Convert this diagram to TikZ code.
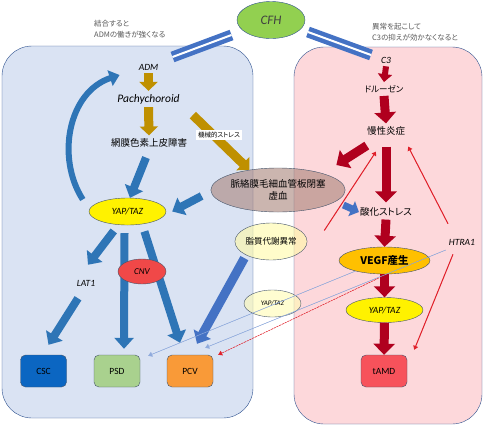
\documentclass[tikz,border=0pt]{standalone}
\usepackage{fontspec}
\setmainfont{Carlito}
\newfontfamily\jp{Noto Sans CJK JP}[RawFeature=+palt]
\usetikzlibrary{shapes.geometric,arrows.meta}
\definecolor{leftbg}{HTML}{DAE3F3}
\definecolor{rightbg}{HTML}{FDD8DB}
\definecolor{frame}{HTML}{2F528F}
\definecolor{edge}{HTML}{44546A}
\definecolor{blarrow}{HTML}{2E75B6}
\definecolor{blarrowlight}{HTML}{4472C4}
\definecolor{goldarrow}{HTML}{BF9000}
\definecolor{redarrow}{HTML}{B0001E}
\definecolor{thinred}{HTML}{E0202A}
\definecolor{thinblue}{HTML}{8FAADC}
\definecolor{notegray}{HTML}{595959}
\definecolor{cfhgreen}{HTML}{92D050}
\definecolor{cscblue}{HTML}{0B66C2}
\definecolor{psdgreen}{HTML}{A9D18E}
\definecolor{pcvorange}{HTML}{F99A38}
\definecolor{tamdred}{HTML}{F7525B}
\definecolor{cnvred}{HTML}{F04848}
\definecolor{vegfgold}{HTML}{FFC000}
\definecolor{ischbrown}{HTML}{A8837A}
\begin{document}
\begin{tikzpicture}[x=1pt,y=-1pt,
    ilbl/.style={inner sep=3pt,font=\fontsize{9.5}{11}\selectfont\itshape},
    jlbl/.style={inner sep=3pt,font=\fontsize{9.5}{11}\selectfont\jp},
    note/.style={inner sep=1pt,align=left,text=notegray,font=\fontsize{7.5}{11}\selectfont\jp},
    oval/.style={ellipse,draw=edge,inner sep=0pt},
    disease/.style={rectangle,draw=edge,rounded corners=5pt,minimum width=46pt,minimum height=32pt,font=\fontsize{9.5}{11}\selectfont},
    goldarr/.style={draw=goldarrow,line width=9pt,-{Triangle[width=18pt,length=9pt]}},
    bluearr/.style={draw=blarrow,line width=8pt,-{Triangle[width=19pt,length=11pt]}},
    redarr/.style={draw=redarrow,line width=9pt,-{Triangle[width=21pt,length=11pt]}},
    thinarr/.style={line width=0.5pt,-{Triangle[width=5pt,length=4pt]}},
    bar/.style={draw=blarrowlight,line width=4.5pt,double=white,double distance=2pt}]
\useasboundingbox (0,0) rectangle (484,426);

% two regions
\draw[frame,fill=leftbg,rounded corners=30pt] (2,46) rectangle (253,418);
\draw[frame,fill=rightbg,rounded corners=30pt] (294,47) rectangle (482,424);

% CFH and its two bindings
\node[oval,fill=cfhgreen,draw=frame,minimum width=68pt,minimum height=37pt,text=black!75,font=\fontsize{13}{15}\selectfont\itshape] (cfh) at (271,20) {CFH};
\coordinate (barL1) at (172.5,57);
\coordinate (barL2) at (231.5,35);
\coordinate (barR1) at (308,32);
\coordinate (barR2) at (371,55);
\draw[bar] (barL1) -- (barL2);
\draw[bar] (barR1) -- (barR2);
\node[note,anchor=west] (noteadm) at (93,29) {結合すると\\ADMの働きが強くなる};
\node[note,anchor=west] (notec3) at (371,32) {異常を起こして\\C3の抑えが効かなくなると};

% left side
\node[ilbl] (adm) at (148.5,67) {ADM};
\node[ilbl,font=\fontsize{11.5}{13}\selectfont\itshape] (pachy) at (148.5,99) {Pachychoroid};
\node[jlbl] (rpe) at (149,143) {網膜色素上皮障害};
\node[oval,fill=yellow,minimum width=77pt,minimum height=27pt,font=\fontsize{9.5}{11}\selectfont\itshape] (yapl) at (127.5,211.5) {YAP/TAZ};
\node[ilbl] (lat) at (86,283) {LAT1};
\node[disease,fill=cscblue] (csc) at (43.5,371) {CSC};
\node[disease,fill=psdgreen] (psd) at (117,371) {PSD};
\node[disease,fill=pcvorange] (pcv) at (190,371) {PCV};

% middle
\node[oval,fill=ischbrown,fill opacity=0.6,text opacity=1,minimum width=118pt,minimum height=44pt,align=center,font=\fontsize{9.5}{11.5}\selectfont\jp] (isch) at (278,190) {脈絡膜毛細血管板閉塞\\虚血};
\node[oval,fill=yellow!35,fill opacity=0.6,text opacity=1,minimum width=66pt,minimum height=37pt,font=\fontsize{8.5}{10}\selectfont\jp] (lipid) at (271,241.5) {脂質代謝異常};
\node[oval,fill=yellow!30,fill opacity=0.6,text opacity=1,minimum width=57pt,minimum height=27pt,font=\fontsize{7}{8}\selectfont\itshape] (yapm) at (272.5,303.5) {YAP/TAZ};

% right side
\node[ilbl] (c3) at (386,60) {C3};
\node[jlbl,font=\fontsize{8.5}{10}\selectfont\jp] (drusen) at (384,89) {ドルーゼン};
\node[jlbl] (inflam) at (386,131) {慢性炎症};
\node[jlbl] (oxid) at (386,212) {酸化ストレス};
\node[oval,fill=vegfgold,minimum width=91pt,minimum height=27pt,font=\fontsize{10.5}{12}\selectfont\jp\bfseries] (vegf) at (384.5,260.5) {VEGF産生};
\node[oval,fill=yellow,minimum width=77pt,minimum height=25pt,font=\fontsize{9.5}{11}\selectfont\itshape] (yapr) at (384.5,310) {YAP/TAZ};
\node[ilbl] (htra) at (462,242) {HTRA1};
\node[disease,fill=tamdred] (tamd) at (384,371) {tAMD};

% arrows on the left
\draw[goldarr] (adm.south) -- (pachy.north);
\draw[goldarr] (pachy.south) -- (rpe.north);
\draw[goldarr] ([shift={(10,8)}]pachy.south east) -- (isch.145);
\node[fill=white,inner sep=2pt,font=\fontsize{6.5}{7}\selectfont\jp] (mech) at (219,135) {機械的ストレス};
\draw[bluearr] ([shift={(-3,7)}]rpe.south) -- (yapl.80);
\draw[bluearr] ([shift={(-9,6)}]isch.west) -- ([xshift=6pt]yapl.east);
\draw[draw=blarrow,line width=6pt,-{Triangle[width=16pt,length=10pt]}]
  ([shift={(-6,-12)}]yapl.west) .. controls (56,158) and (68,92) .. ([shift={(-16,8)}]adm.west);
\draw[bluearr] ([shift={(-6,6)}]yapl.240) -- ([shift={(2,-12)}]lat.north);
\draw[bluearr] ([shift={(-8,9)}]lat.south) -- ([shift={(5,-10)}]csc.north);
\draw[bluearr] ([shift={(-3,8)}]yapl.south) -- ([shift={(7,-6)}]psd.north);
\draw[bluearr] ([shift={(4,7)}]yapl.315) -- ([shift={(-10,-12)}]pcv.north);
\draw[bluearr,draw=blarrowlight,line width=9pt] ([xshift=-10pt]lipid.225) -- ([shift={(7,-11)}]pcv.north);
\node[oval,fill=cnvred,minimum width=48pt,minimum height=25pt,font=\fontsize{9}{11}\selectfont\itshape] (cnv) at (142,271.5) {CNV};

% arrows on the right
\draw[redarr,line width=6pt,-{Triangle[width=14pt,length=8pt]}] (c3.south) -- (drusen.north);
\draw[redarr] (drusen.south) -- (inflam.north);
\draw[redarr] ([shift={(3,7)}]inflam.south west) -- ([shift={(-9,-25)}]isch.east);
\draw[redarr] ([yshift=-8pt]inflam.south) -- ([yshift=2pt]oxid.north);
\draw[bluearr,draw=blarrowlight,line width=7pt,-{Triangle[width=16pt,length=8pt]}] ([shift={(-2,15)}]isch.east) -- ([xshift=2pt]oxid.west);
\draw[redarr] (oxid.south) -- (vegf.north);
\draw[redarr] (vegf.south) -- (yapr.north);
\draw[redarr] (yapr.south) -- (tamd.north);
\draw[thinarr,draw=thinred,line width=1pt,fill=thinred] ([shift={(17,-11)}]lipid.east) -- ([shift={(-10,13)}]inflam.south);
\draw[thinarr,draw=thinred,line width=1pt,fill=thinred] ([shift={(-14,-12)}]htra.north) -- ([yshift=-8pt]inflam.south east);
\draw[thinarr,draw=thinred,line width=1pt,fill=thinred] ([shift={(-9,6)}]htra.south) -- ([shift={(7,-5)}]tamd.north east);

% thin links to PSD and PCV
\draw[thinarr,draw=thinblue,fill=blarrowlight] (vegf.200) -- ([shift={(8,1)}]psd.north east);
\draw[thinarr,draw=thinblue,fill=blarrowlight] ([yshift=-8pt]htra.west) -- ([shift={(-8,-7)}]pcv.north east);
\draw[thinarr,draw=thinred,fill=thinred,dash pattern=on 2pt off 1pt] ([shift={(-6,4)}]vegf.south) -- ([shift={(5,0)}]pcv.north east);
\end{tikzpicture}
\end{document}
